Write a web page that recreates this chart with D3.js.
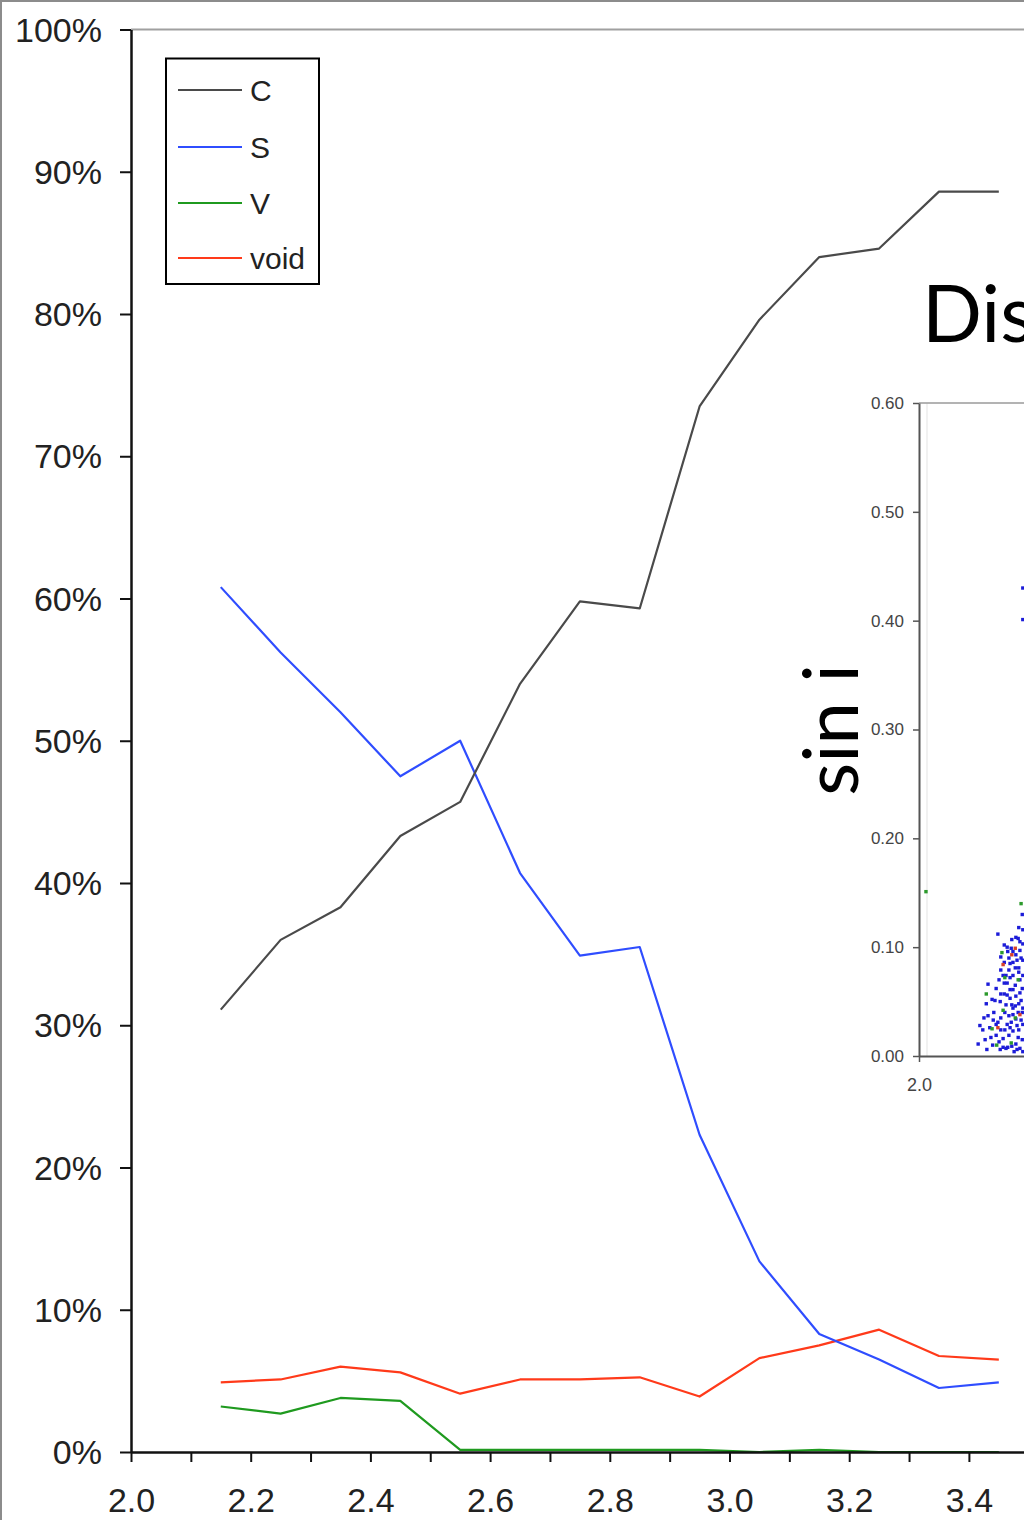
<!DOCTYPE html>
<html>
<head>
<meta charset="utf-8">
<script src="https://cdn.jsdelivr.net/npm/d3@7"></script>
<style>
  html, body { margin: 0; padding: 0; background: #ffffff; }
  svg { display: block; }
</style>
</head>
<body>
<svg id="chart" width="1024" height="1520"></svg>
<script>
// ---- Main chart: share of each class per semimajor-axis bin ----
const binCenters = [2.15, 2.25, 2.35, 2.45, 2.55, 2.65, 2.75, 2.85, 2.95, 3.05, 3.15, 3.25, 3.35, 3.45];
const seriesC    = [31.1, 36.0, 38.3, 43.3, 45.7, 54.0, 59.8, 59.3, 73.5, 79.6, 84.0, 84.6, 88.6, 88.6];
const seriesS    = [60.8, 56.2, 52.0, 47.5, 50.0, 40.7, 34.9, 35.5, 22.3, 13.4, 8.3, 6.5, 4.5, 4.9];
const seriesV    = [3.2, 2.7, 3.8, 3.6, 0.15, 0.15, 0.15, 0.15, 0.15, 0, 0.15, 0, 0, 0];
const seriesVoid = [4.9, 5.1, 6.0, 5.6, 4.1, 5.1, 5.1, 5.25, 3.9, 6.6, 7.5, 8.6, 6.75, 6.5];

const seriesNames  = ["C", "S", "V", "void"];
const seriesColors = ["#4a4a4a", "#2f4dff", "#1f9a1f", "#ff3a1a"];

const yTickValues = [0, 10, 20, 30, 40, 50, 60, 70, 80, 90, 100];
const xTickValues = [2.0, 2.1, 2.2, 2.3, 2.4, 2.5, 2.6, 2.7, 2.8, 2.9, 3.0, 3.1, 3.2, 3.3, 3.4, 3.5];
const xTickLabels = ["2.0", "", "2.2", "", "2.4", "", "2.6", "", "2.8", "", "3.0", "", "3.2", "", "3.4", ""];

// ---- Inset scatter: sin i against semimajor axis, by class ----
const insetYTicks = [0.0, 0.1, 0.2, 0.3, 0.4, 0.5, 0.6];
const insetXTicks = [2.0];
const insetBlue = [
  [2.179, 0.430], [2.179, 0.401], [2.136, 0.112], [2.178, 0.130], [2.167, 0.109],
  [2.152, 0.100], [2.160, 0.107], [2.172, 0.118], [2.138, 0.070], [2.126, 0.052],
  [2.105, 0.028], [2.122, 0.026], [2.145, 0.016], [2.153, 0.008], [2.164, 0.004],
  [2.133, 0.019], [2.141, 0.035], [2.150, 0.047], [2.157, 0.061], [2.162, 0.074],
  [2.169, 0.088], [2.174, 0.097], [2.147, 0.086], [2.155, 0.079], [2.166, 0.065],
  [2.176, 0.051], [2.171, 0.040], [2.159, 0.031], [2.148, 0.024], [2.172, 0.024],
  [2.178, 0.015], [2.167, 0.011], [2.129, 0.040], [2.119, 0.037], [2.114, 0.015],
  [2.127, 0.010], [2.140, 0.006], [2.160, 0.047], [2.179, 0.074], [2.179, 0.088],
  [2.174, 0.105], [2.162, 0.096], [2.155, 0.090], [2.141, 0.079], [2.133, 0.062],
  [2.152, 0.056], [2.162, 0.038], [2.176, 0.033], [2.155, 0.019], [2.136, 0.031],
  [2.116, 0.048], [2.110, 0.024], [2.167, 0.055], [2.179, 0.044], [2.172, 0.081],
  [2.147, 0.067], [2.159, 0.099], [2.169, 0.028], [2.174, 0.007], [2.150, 0.007],
  [2.124, 0.017], [2.141, 0.057], [2.162, 0.086], [2.179, 0.116], [2.171, 0.017],
  [2.131, 0.051], [2.157, 0.026], [2.166, 0.046], [2.178, 0.062], [2.150, 0.074],
  [2.147, 0.102], [2.153, 0.096], [2.167, 0.093], [2.176, 0.090], [2.141, 0.091],
  [2.157, 0.085], [2.172, 0.077], [2.152, 0.067], [2.162, 0.061], [2.174, 0.058],
  [2.157, 0.053], [2.148, 0.040], [2.155, 0.037], [2.167, 0.034], [2.179, 0.029],
  [2.162, 0.023], [2.152, 0.029], [2.141, 0.024], [2.138, 0.013], [2.160, 0.009],
  [2.169, 0.006], [2.179, 0.004], [2.145, 0.008], [2.133, 0.029], [2.128, 0.033],
  [2.140, 0.050], [2.147, 0.057], [2.178, 0.040], [2.172, 0.048], [2.162, 0.044],
  [2.179, 0.103], [2.171, 0.108], [2.174, 0.070], [2.157, 0.072], [2.166, 0.081],
  [2.145, 0.074], [2.119, 0.066], [2.112, 0.035], [2.102, 0.011], [2.117, 0.006]
];
const insetGreen = [
  [2.012, 0.151], [2.176, 0.140], [2.143, 0.095], [2.148, 0.072], [2.116, 0.057],
  [2.126, 0.025], [2.134, 0.010], [2.159, 0.012], [2.171, 0.070], [2.166, 0.035],
  [2.145, 0.042]
];
const insetRed = [
  [2.145, 0.084], [2.136, 0.026], [2.160, 0.093], [2.174, 0.038], [2.166, 0.099]
];

const svg = d3.select("#chart");
const tickFont = "'Liberation Sans', Arial, sans-serif";

// Outer frame of the figure
svg.append("rect")
  .attr("x", 1).attr("y", 1).attr("width", 1200).attr("height", 1700)
  .attr("fill", "none").attr("stroke", "#8c8c8c").attr("stroke-width", 2);

// Scales for the main chart
const x = d3.scaleLinear().domain([2.0, 3.6]).range([131, 1088.6]);
const y = d3.scaleLinear().domain([0, 100]).range([1452, 29.5]);

// Plot-area top border
svg.append("line")
  .attr("x1", x(2.0)).attr("x2", 1030)
  .attr("y1", y(100)).attr("y2", y(100))
  .attr("stroke", "#a0a0a0").attr("stroke-width", 2);

// Series lines
const allSeries = [seriesC, seriesS, seriesV, seriesVoid];
const lineGen = d3.line()
  .x((d, i) => x(binCenters[i]))
  .y(d => y(d));

const drawOrder = [2, 3, 1, 0];
drawOrder.forEach(k => {
  svg.append("path")
    .datum(allSeries[k])
    .attr("d", lineGen)
    .attr("fill", "none")
    .attr("stroke", seriesColors[k])
    .attr("stroke-width", 2.2)
    .attr("stroke-linejoin", "round");
});

// Y axis
const yAxis = svg.append("g")
  .attr("transform", `translate(${x(2.0)},0)`)
  .call(d3.axisLeft(y).tickValues(yTickValues).tickFormat(d => d + "%")
        .tickSize(11).tickSizeOuter(0).tickPadding(18));
yAxis.select(".domain").attr("stroke", "#111").attr("stroke-width", 2.5);
yAxis.selectAll(".tick line").attr("stroke", "#111").attr("stroke-width", 2);
yAxis.selectAll(".tick text")
  .attr("font-family", tickFont).attr("font-size", 34).attr("fill", "#222")
  .attr("dy", "0.34em");

// X axis
const xAxis = svg.append("g")
  .attr("transform", `translate(0,${y(0)})`)
  .call(d3.axisBottom(x).tickValues(xTickValues).tickFormat((d, i) => xTickLabels[i])
        .tickSize(10).tickSizeOuter(0).tickPadding(26));
xAxis.select(".domain").attr("stroke", "#111").attr("stroke-width", 2.5);
xAxis.selectAll(".tick line").attr("stroke", "#111").attr("stroke-width", 2);
xAxis.selectAll(".tick text")
  .attr("font-family", tickFont).attr("font-size", 34).attr("fill", "#222");

// Legend
const legend = svg.append("g");
legend.append("rect")
  .attr("x", 166).attr("y", 58.5).attr("width", 153).attr("height", 225.5)
  .attr("fill", "#fff").attr("stroke", "#000").attr("stroke-width", 2);
const legendRows = [90, 147, 203, 258];
seriesNames.forEach((name, i) => {
  legend.append("line")
    .attr("x1", 178).attr("x2", 242)
    .attr("y1", legendRows[i]).attr("y2", legendRows[i])
    .attr("stroke", seriesColors[i]).attr("stroke-width", 2);
  legend.append("text")
    .attr("x", 250).attr("y", legendRows[i]).attr("dy", "0.36em")
    .attr("font-family", tickFont).attr("font-size", 30).attr("fill", "#222")
    .text(name);
});

// ---- Inset panel ----
const inset = svg.append("g");
const xi = d3.scaleLinear().domain([2.0, 2.4]).range([919, 1151]);
const yi = d3.scaleLinear().domain([0, 0.6]).range([1056, 403]);

inset.append("rect")
  .attr("x", xi(2.0)).attr("y", yi(0.6)).attr("width", 260).attr("height", yi(0) - yi(0.6))
  .attr("fill", "#fff");
inset.append("line")
  .attr("x1", 927).attr("x2", 927).attr("y1", yi(0.6)).attr("y2", yi(0))
  .attr("stroke", "#ececec").attr("stroke-width", 1.5);
inset.append("line")
  .attr("x1", xi(2.0)).attr("x2", 1030).attr("y1", yi(0.6)).attr("y2", yi(0.6))
  .attr("stroke", "#9a9a9a").attr("stroke-width", 1.5);

const dot = 3.4;
const drawDots = (pts, color) => {
  inset.append("g").selectAll("rect").data(pts).join("rect")
    .attr("x", d => xi(d[0]) - dot / 2)
    .attr("y", d => yi(d[1]) - dot / 2)
    .attr("width", dot).attr("height", dot)
    .attr("fill", color);
};
drawDots(insetBlue, "#1c1cd8");
drawDots(insetGreen, "#2c9a2c");
drawDots(insetRed, "#d8402a");

const insetFont = "'Liberation Sans', Arial, sans-serif";
const yiAxis = inset.append("g")
  .attr("transform", `translate(${xi(2.0)},0)`)
  .call(d3.axisLeft(yi).tickValues(insetYTicks).tickFormat(d3.format(".2f"))
        .tickSize(6).tickSizeOuter(0).tickPadding(9));
yiAxis.select(".domain").attr("stroke", "#555").attr("stroke-width", 2);
yiAxis.selectAll(".tick line").attr("stroke", "#555").attr("stroke-width", 1.5);
yiAxis.selectAll(".tick text")
  .attr("font-family", insetFont).attr("font-size", 17).attr("fill", "#444");

const xiAxis = inset.append("g")
  .attr("transform", `translate(0,${yi(0)})`)
  .call(d3.axisBottom(xi).tickValues(insetXTicks).tickFormat(d3.format(".1f"))
        .tickSize(6).tickSizeOuter(0).tickPadding(16));
xiAxis.select(".domain").attr("stroke", "#555").attr("stroke-width", 2);
xiAxis.selectAll(".tick line").attr("stroke", "#555").attr("stroke-width", 1.5);
xiAxis.selectAll(".tick text")
  .attr("font-family", insetFont).attr("font-size", 18).attr("fill", "#444");

// Inset titles
svg.append("text")
  .attr("x", 922).attr("y", 342)
  .attr("font-family", "Lato, 'Open Sans', sans-serif").attr("font-size", 79)
  .attr("fill", "#000")
  .text("Distribution");

svg.append("text")
  .attr("transform", "translate(858,730) rotate(-90)")
  .attr("text-anchor", "middle")
  .attr("font-family", "Lato, 'Open Sans', sans-serif").attr("font-size", 76)
  .attr("fill", "#000")
  .text("sin i");
</script>
</body>
</html>
